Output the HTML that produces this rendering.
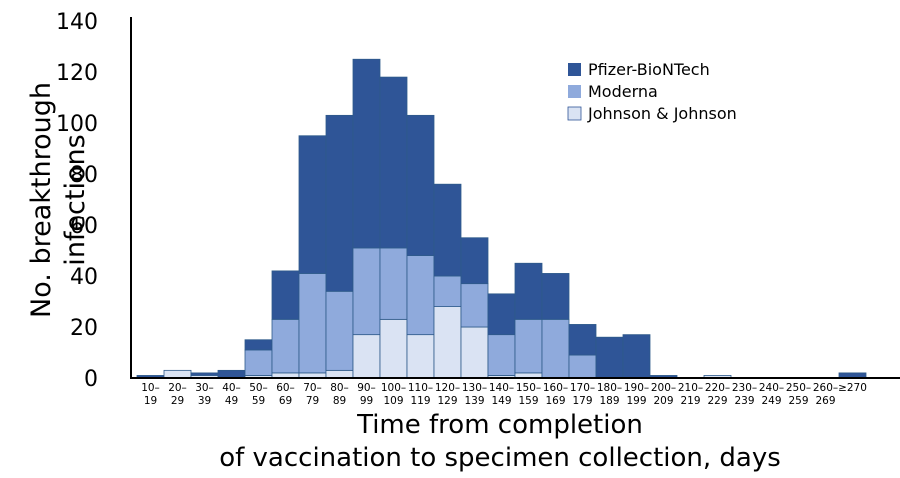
<!DOCTYPE html>
<html><head><meta charset="utf-8"><style>
body{margin:0;background:#fff;}
svg{display:block;font-family:"DejaVu Sans","Liberation Sans",sans-serif;}
</style></head><body>
<svg id="chart" width="900" height="478">
<g id="bars"></g>
<g id="axes"></g>
<text x="50" y="200" transform="rotate(-90 50 200)" text-anchor="middle" font-size="27">No. breakthrough</text>
<text x="84" y="200" transform="rotate(-90 84 200)" text-anchor="middle" font-size="27">infections</text>
<text x="500" y="433" text-anchor="middle" font-size="26">Time from completion</text>
<text x="500" y="466" text-anchor="middle" font-size="26">of vaccination to specimen collection, days</text>
<g font-size="16">
<rect x="568" y="63" width="13" height="13" fill="#2f5597"/>
<text x="588" y="75">Pfizer-BioNTech</text>
<rect x="568" y="85" width="13" height="13" fill="#8faadc"/>
<text x="588" y="97">Moderna</text>
<rect x="568" y="107" width="13" height="13" fill="#dae3f3" stroke="#2f5597" stroke-width="0.8"/>
<text x="588" y="119">Johnson &amp; Johnson</text>
</g>
</svg>
<script>
const cats1=["10–","20–","30–","40–","50–","60–","70–","80–","90–","100–","110–","120–","130–","140–","150–","160–","170–","180–","190–","200–","210–","220–","230–","240–","250–","260–","≥270"];
const cats2=["19","29","39","49","59","69","79","89","99","109","119","129","139","149","159","169","179","189","199","209","219","229","239","249","259","269",""];
const jj=[0,3,1,0,1,2,2,3,17,23,17,28,20,1,2,0,0,0,0,0,0,1,0,0,0,0,0];
const moderna=[0,0,0,0,10,21,39,31,34,28,31,12,17,16,21,23,9,0,0,0,0,0,0,0,0,0,0];
const pfizer=[1,0,1,3,4,19,54,69,74,67,55,36,18,16,22,18,12,16,17,1,0,0,0,0,0,0,2];
const yTicks=[0,20,40,60,80,100,120,140];
const NS="http://www.w3.org/2000/svg";
const x0=137,bw=27,y0=378,yMax=140,yTop=21;
const xs=i=>x0+i*bw;
const ys=v=>y0-(v/yMax)*(y0-yTop);
function mk(t,a,p){const e=document.createElementNS(NS,t);for(const k in a)e.setAttribute(k,a[k]);p.appendChild(e);return e;}
const bars=document.getElementById('bars'),axes=document.getElementById('axes');
const series=[[jj,"#dae3f3","jj"],[moderna,"#8faadc","moderna"],[pfizer,"#2f5597","pfizer"]];
cats1.forEach((c,i)=>{let base=0;series.forEach(([arr,col,nm])=>{const v=arr[i];if(v>0){const r=mk('rect',{x:xs(i),y:ys(base+v),width:bw,height:ys(base)-ys(base+v),fill:col,stroke:"#2e5a8a","stroke-width":0.8},bars);

}base+=v;});
const t1=mk('text',{x:xs(i)+bw/2,y:391,"text-anchor":"middle","font-size":10.5},axes);t1.textContent=c;


const t2=mk('text',{x:xs(i)+bw/2,y:404,"text-anchor":"middle","font-size":10.5},axes);t2.textContent=cats2[i];

});
yTicks.forEach(v=>{const t=mk('text',{x:98,y:ys(v)+8,"text-anchor":"end","font-size":22},axes);t.textContent=v;

});
const ya=mk('line',{x1:131,y1:yTop-4,x2:131,y2:y0,stroke:"#000","stroke-width":2},axes);


const xa=mk('line',{x1:130,y1:y0,x2:900,y2:y0,stroke:"#000","stroke-width":2},axes);


</script>
</body></html>
